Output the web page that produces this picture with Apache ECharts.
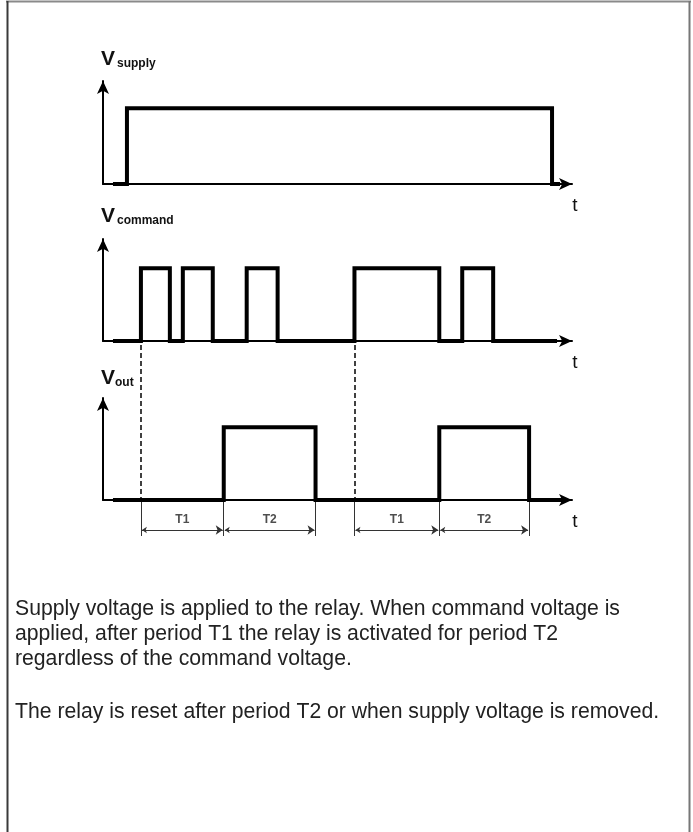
<!DOCTYPE html>
<html>
<head>
<meta charset="utf-8">
<title>Relay timing</title>
<script src="https://cdn.jsdelivr.net/npm/echarts@6/dist/echarts.min.js"></script>
<style>
  html, body { margin: 0; padding: 0; background: #fff; }
  #chart { width: 693px; height: 832px; }
</style>
</head>
<body>
<div id="chart"></div>
<script>
// 跳变时刻（时间单位）与对应电平
const supplyTimes = [2, 4.8, 90, 91.6];
const supplyLevels = [0, 1.03, 0, 0];

const commandTimes = [2, 7.6, 13.4, 16, 22, 28.8, 35, 50.4, 67.4, 72, 78.2, 91];
const commandLevels = [0, 1, 0, 1, 0, 1, 0, 1, 0, 1, 0, 0];

const outputTimes = [2, 24.2, 42.6, 67.4, 85.4, 93];
const outputLevels = [0, 1, 0, 1, 0, 0];

// 触发时刻（虚线）与 T1 / T2 区间
const triggerTimes = [7.6, 50.4];
const periodStarts = [7.6, 24.2, 50.4, 67.4];
const periodEnds = [24.2, 42.6, 67.4, 85.4];
const periodNames = ['T1', 'T2', 'T1', 'T2'];

const signalNames = ['supply', 'command', 'out'];

const paragraph1 = 'Supply voltage is applied to the relay. When command voltage is\n' +
  'applied, after period T1 the relay is activated for period T2\n' +
  'regardless of the command voltage.';
const paragraph2 = 'The relay is reset after period T2 or when supply voltage is removed.';

const myChart = echarts.init(document.getElementById('chart'));

const T_MAX = 94;
const gridTops = [81, 239, 398];
const gridHeights = [103, 102, 102];
const labelTops = [43, 200, 362];
const narrow = "'Liberation Sans Narrow', 'Liberation Sans', Arial, sans-serif";
const sans = "'Liberation Sans', Arial, sans-serif";

function toPoints(times, levels) {
  return times.map((t, i) => [t, levels[i]]);
}

const signals = [
  toPoints(supplyTimes, supplyLevels),
  toPoints(commandTimes, commandLevels),
  toPoints(outputTimes, outputLevels)
];

const grids = gridTops.map((top, i) => ({
  left: 103, width: 469, top: top, height: gridHeights[i]
}));
// 虚线和 T1/T2 标注用的叠加网格
grids.push({ left: 103, width: 469, top: 345, height: 191 });

const xAxes = gridTops.map((top, i) => ({
  gridIndex: i,
  type: 'value',
  min: 0,
  max: T_MAX,
  axisLine: {
    show: true,
    onZero: false,
    symbol: ['none', 'arrow'],
    symbolSize: [9, 13],
    lineStyle: { color: '#000', width: 2 }
  },
  axisTick: { show: false },
  axisLabel: { show: false },
  splitLine: { show: false },
  name: 't',
  nameLocation: 'end',
  nameGap: 3,
  nameTextStyle: {
    fontFamily: sans,
    fontSize: 19,
    color: '#111',
    align: 'center',
    verticalAlign: 'top',
    padding: [12, 0, 0, 0]
  }
}));
xAxes.push({ gridIndex: 3, type: 'value', min: 0, max: T_MAX, show: false });

const yAxes = gridTops.map((top, i) => ({
  gridIndex: i,
  type: 'value',
  min: 0,
  max: 1.4,
  axisLine: {
    show: true,
    symbol: ['none', 'arrow'],
    symbolSize: [9, 13],
    lineStyle: { color: '#000', width: 2 }
  },
  axisTick: { show: false },
  axisLabel: { show: false },
  splitLine: { show: false }
}));
yAxes.push({ gridIndex: 3, type: 'value', min: 0, max: 191, show: false });

const series = signals.map((data, i) => ({
  type: 'line',
  xAxisIndex: i,
  yAxisIndex: i,
  data: data,
  step: 'end',
  symbol: 'none',
  lineStyle: { color: '#000', width: 4, join: 'miter', cap: 'butt' }
}));

// 触发虚线
series.push({
  type: 'lines',
  coordinateSystem: 'cartesian2d',
  xAxisIndex: 3,
  yAxisIndex: 3,
  symbol: 'none',
  lineStyle: { color: '#000', width: 1.5, type: [5, 3], opacity: 1 },
  data: triggerTimes.map(t => ({ coords: [[t, 191], [t, 36]] }))
});

// 区间边界竖线
const boundTimes = [...new Set(periodStarts.concat(periodEnds))];
series.push({
  type: 'lines',
  coordinateSystem: 'cartesian2d',
  xAxisIndex: 3,
  yAxisIndex: 3,
  symbol: 'none',
  lineStyle: { color: '#333', width: 1, opacity: 1 },
  data: boundTimes.map(t => ({ coords: [[t, 36], [t, 0]] }))
});

// 双向箭头
series.push({
  type: 'lines',
  coordinateSystem: 'cartesian2d',
  xAxisIndex: 3,
  yAxisIndex: 3,
  symbol: ['arrow', 'arrow'],
  symbolSize: [5, 7],
  lineStyle: { color: '#333', width: 1, opacity: 1 },
  data: periodStarts.map((s, i) => ({ coords: [[s + 0.2, 6], [periodEnds[i] - 0.2, 6]] }))
});

// T1 / T2 文字
series.push({
  type: 'scatter',
  xAxisIndex: 3,
  yAxisIndex: 3,
  symbolSize: 0,
  label: {
    show: true,
    position: 'inside',
    formatter: p => p.value[2],
    fontFamily: narrow,
    fontWeight: 'bold',
    fontSize: 12,
    color: '#222'
  },
  data: periodStarts.map((s, i) => [(s + periodEnds[i]) / 2, 16, periodNames[i]])
});

const titles = signalNames.map((name, i) => ({
  text: '{v|V}{s|' + name + '}',
  left: 96,
  top: labelTops[i],
  textStyle: {
    rich: {
      v: { fontFamily: narrow, fontSize: 21, color: '#111', verticalAlign: 'bottom', lineHeight: 22 },
      s: {
        fontFamily: narrow, fontSize: 12, fontWeight: 'bold', color: '#111',
        verticalAlign: 'bottom', lineHeight: 22, padding: [0, 0, 0, name === 'out' ? 0 : 2]
      }
    }
  }
}));

titles.push({
  text: paragraph1,
  left: 10,
  top: 592,
  textStyle: { fontFamily: sans, fontSize: 21.2, fontWeight: 'normal', color: '#222', lineHeight: 25 }
});
titles.push({
  text: paragraph2,
  left: 10,
  top: 695,
  textStyle: { fontFamily: sans, fontSize: 21.2, fontWeight: 'normal', color: '#222', lineHeight: 25 }
});

const option = {
  animation: false,
  backgroundColor: '#fff',
  title: titles,
  grid: grids,
  xAxis: xAxes,
  yAxis: yAxes,
  series: series,
  // 外框
  graphic: [
    { type: 'line', shape: { x1: 6, y1: 1.5, x2: 691, y2: 1.5 }, style: { stroke: '#8a8a8a', lineWidth: 2 } },
    { type: 'line', shape: { x1: 7.5, y1: 1, x2: 7.5, y2: 832 }, style: { stroke: '#3a3a3a', lineWidth: 2 } },
    { type: 'line', shape: { x1: 689.5, y1: 1, x2: 689.5, y2: 832 }, style: { stroke: '#777', lineWidth: 2 } }
  ]
};

myChart.setOption(option);
</script>
</body>
</html>
